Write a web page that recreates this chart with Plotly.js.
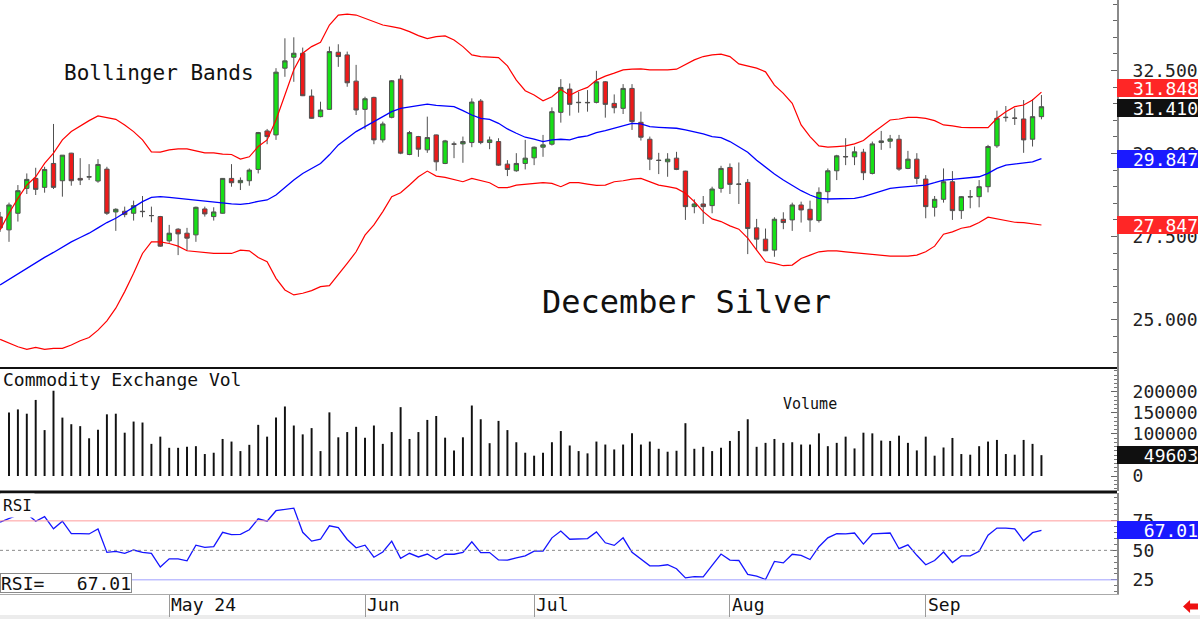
<!DOCTYPE html>
<html>
<head>
<meta charset="utf-8">
<script src="https://cdn.plot.ly/plotly-3.0.1.min.js"></script>
<style>
  html, body { margin: 0; padding: 0; background: #ffffff; }
  #chart { width: 1200px; height: 619px; }
</style>
</head>
<body>
<div id="chart"></div>
<script>
// December silver futures, daily sessions Apr 4 – Sep 20, 2024
const dates = [
  '2024-04-04','2024-04-05','2024-04-08','2024-04-09','2024-04-10','2024-04-11','2024-04-12','2024-04-15','2024-04-16','2024-04-17',
  '2024-04-18','2024-04-19','2024-04-22','2024-04-23','2024-04-24','2024-04-25','2024-04-26','2024-04-29','2024-04-30',
  '2024-05-01','2024-05-02','2024-05-03','2024-05-06','2024-05-07','2024-05-08','2024-05-09','2024-05-10','2024-05-13','2024-05-14',
  '2024-05-15','2024-05-16','2024-05-17','2024-05-20','2024-05-21','2024-05-22','2024-05-23','2024-05-24','2024-05-28','2024-05-29',
  '2024-05-30','2024-05-31',
  '2024-06-03','2024-06-04','2024-06-05','2024-06-06','2024-06-07','2024-06-10','2024-06-11','2024-06-12','2024-06-13','2024-06-14',
  '2024-06-17','2024-06-18','2024-06-20','2024-06-21','2024-06-24','2024-06-25','2024-06-26','2024-06-27','2024-06-28',
  '2024-07-01','2024-07-02','2024-07-03','2024-07-05','2024-07-08','2024-07-09','2024-07-10','2024-07-11','2024-07-12','2024-07-15',
  '2024-07-16','2024-07-17','2024-07-18','2024-07-19','2024-07-22','2024-07-23','2024-07-24','2024-07-25','2024-07-26','2024-07-29',
  '2024-07-30','2024-07-31',
  '2024-08-01','2024-08-02','2024-08-05','2024-08-06','2024-08-07','2024-08-08','2024-08-09','2024-08-12','2024-08-13','2024-08-14',
  '2024-08-15','2024-08-16','2024-08-19','2024-08-20','2024-08-21','2024-08-22','2024-08-23','2024-08-26','2024-08-27','2024-08-28',
  '2024-08-29','2024-08-30',
  '2024-09-03','2024-09-04','2024-09-05','2024-09-06','2024-09-09','2024-09-10','2024-09-11','2024-09-12','2024-09-13','2024-09-16',
  '2024-09-17','2024-09-18','2024-09-19','2024-09-20'
];

const openPx = [
  28.09,27.70,28.20,28.95,29.25,28.98,29.70,29.18,30.01,29.25,
  29.29,29.17,29.53,28.24,28.26,28.20,28.26,28.13,28.10,27.37,
  27.72,27.60,27.55,28.33,28.10,28.20,29.25,29.12,29.18,29.52,
  30.68,30.56,32.57,32.90,33.02,31.73,31.11,31.33,33.05,32.97,
  32.18,31.33,31.69,30.41,31.09,32.24,29.97,30.51,30.11,30.56,
  29.70,30.29,30.29,30.33,31.58,30.33,30.36,29.68,29.48,29.70,
  29.87,30.19,30.28,31.24,31.94,31.53,31.54,31.54,32.16,31.51,
  31.36,31.96,30.94,30.43,29.80,29.75,29.86,29.47,28.40,28.48,
  28.43,28.95,29.58,29.07,29.13,27.76,27.42,27.09,28.02,28.00,
  28.45,28.32,27.98,28.85,29.48,29.91,29.90,30.04,29.40,30.33,
  30.37,30.43,29.55,29.83,29.23,28.38,28.62,29.15,28.28,28.69,
  28.70,29.00,30.23,31.08,31.07,31.04,30.43,31.11
];
const highPx = [
  28.24,28.52,29.05,29.40,29.57,29.60,30.89,29.95,30.02,29.86,
  29.68,29.83,29.60,28.35,28.40,28.58,28.72,28.40,28.12,27.85,
  27.75,27.76,28.40,28.40,28.38,29.26,29.68,29.28,29.55,30.65,
  30.74,32.57,33.47,33.50,33.19,31.93,31.56,33.22,33.29,33.07,
  32.67,31.71,31.71,30.96,32.21,32.36,30.68,30.53,31.11,30.57,
  30.41,30.36,30.51,31.66,31.64,30.51,30.46,29.80,30.01,30.41,
  30.21,30.56,31.39,32.24,32.11,31.86,31.91,32.49,32.18,31.78,
  32.09,32.09,31.26,30.51,30.02,30.01,30.05,29.48,28.62,28.72,
  29.00,29.63,29.70,29.73,29.23,28.03,27.74,28.08,28.23,28.52,
  28.55,28.58,28.98,29.55,29.96,30.46,30.21,30.14,30.36,30.68,
  30.56,30.56,30.08,30.01,29.35,28.72,29.55,29.47,28.72,28.90,
  29.20,30.26,31.29,31.43,31.36,31.61,31.63,31.76
];
const lowPx = [
  27.64,27.34,27.95,28.78,28.75,28.82,28.93,28.70,29.03,29.05,
  29.20,29.12,28.15,27.67,28.08,27.98,28.08,27.93,27.19,27.31,
  26.94,27.07,27.34,28.10,27.98,28.19,29.00,28.90,29.03,29.40,
  30.28,30.41,32.31,32.16,31.73,31.05,31.09,31.32,32.61,32.01,
  31.16,30.73,30.28,30.33,31.06,29.98,29.95,29.90,30.02,29.48,
  29.68,29.86,29.72,30.19,30.28,30.13,29.63,29.32,29.45,29.52,
  29.65,29.90,30.24,30.93,31.14,31.23,31.26,31.51,31.08,31.21,
  31.19,30.71,30.39,29.50,29.38,29.30,29.50,28.00,28.20,27.88,
  28.20,28.82,28.78,28.48,26.97,27.09,27.06,26.89,27.72,27.67,
  27.92,27.64,27.92,28.50,29.20,29.65,29.65,29.20,29.37,30.11,
  30.16,29.48,29.53,29.08,28.05,28.10,28.52,28.00,28.03,28.35,
  28.38,28.83,30.17,30.96,30.86,30.02,30.21,31.03
];
const closePx = [
  27.76,28.45,28.88,29.22,28.92,29.52,28.98,29.95,29.18,29.20,
  29.30,29.67,28.20,28.32,28.16,28.43,28.25,28.13,27.21,27.60,
  27.58,27.45,28.38,28.18,28.24,29.25,29.12,29.19,29.50,30.63,
  30.51,32.45,32.79,33.02,31.74,31.06,31.31,33.07,32.92,32.13,
  31.31,31.65,30.41,30.89,32.19,30.01,30.63,30.13,30.48,29.75,
  30.38,30.28,30.36,31.55,30.33,30.41,29.65,29.52,29.70,29.86,
  30.19,30.26,31.26,31.99,31.48,31.54,31.53,32.16,31.48,31.38,
  31.96,30.96,30.49,29.83,29.79,29.83,29.52,28.40,28.48,28.40,
  28.93,29.55,29.07,29.08,27.74,27.42,27.07,28.02,27.92,28.45,
  28.30,28.00,28.83,29.48,29.93,29.90,30.05,29.42,30.29,30.38,
  30.44,29.53,29.83,29.25,28.40,28.62,29.15,28.28,28.70,28.70,
  29.00,30.21,31.06,31.09,31.06,30.41,31.11,31.410
];

// Bollinger bands (20-day, 2 sd)
const upperBand = [
  27.70,28.20,28.65,29.05,29.30,29.70,30.01,30.41,30.66,30.83,
  30.99,31.13,31.09,31.03,30.86,30.66,30.41,30.05,30.04,30.11,
  30.14,30.14,30.08,30.02,30.02,29.98,29.97,29.83,29.90,30.21,
  30.41,31.01,31.76,32.52,33.02,33.22,33.35,33.87,34.17,34.20,
  34.17,34.07,33.97,33.87,33.82,33.77,33.67,33.55,33.46,33.52,
  33.54,33.42,33.22,32.97,32.92,32.90,32.89,32.64,32.21,31.89,
  31.76,31.59,31.71,31.93,31.75,31.89,31.99,32.21,32.33,32.42,
  32.52,32.54,32.55,32.52,32.51,32.52,32.54,32.67,32.82,32.92,
  32.97,32.99,32.92,32.70,32.64,32.57,32.46,32.06,31.81,31.51,
  30.86,30.51,30.23,30.19,30.21,30.23,30.29,30.39,30.61,30.81,
  31.01,31.04,31.09,31.09,31.06,30.99,30.86,30.83,30.79,30.78,
  30.78,30.78,31.06,31.26,31.41,31.46,31.61,31.848
];
const midBand = [
  26.04,26.21,26.37,26.53,26.71,26.87,27.02,27.19,27.34,27.47,
  27.60,27.76,27.92,28.05,28.22,28.38,28.55,28.68,28.70,28.68,
  28.65,28.62,28.58,28.55,28.52,28.50,28.48,28.47,28.50,28.56,
  28.60,28.75,28.98,29.20,29.40,29.55,29.70,29.96,30.26,30.46,
  30.66,30.81,30.96,31.11,31.26,31.36,31.41,31.46,31.49,31.45,
  31.43,31.41,31.29,31.16,31.06,31.03,30.91,30.74,30.61,30.49,
  30.43,30.36,30.41,30.43,30.41,30.49,30.53,30.63,30.69,30.76,
  30.84,30.91,30.89,30.81,30.79,30.78,30.76,30.71,30.66,30.59,
  30.51,30.48,30.36,30.21,30.04,29.80,29.58,29.38,29.20,29.04,
  28.88,28.75,28.65,28.63,28.63,28.63,28.65,28.70,28.78,28.88,
  28.95,28.98,29.00,29.02,29.05,29.12,29.20,29.22,29.25,29.28,
  29.30,29.40,29.55,29.65,29.68,29.70,29.75,29.847
];
const lowerBand = [
  24.40,24.28,24.18,24.10,24.16,24.10,24.13,24.13,24.23,24.36,
  24.46,24.68,24.96,25.34,25.84,26.39,26.99,27.34,27.34,27.29,
  27.21,27.07,27.04,27.02,26.99,26.99,26.99,27.09,27.07,26.87,
  26.74,26.24,25.89,25.74,25.79,25.87,25.99,26.02,26.34,26.69,
  27.04,27.54,27.85,28.25,28.70,28.82,29.05,29.30,29.47,29.32,
  29.28,29.22,29.15,29.25,29.18,29.12,28.97,28.97,29.05,29.08,
  29.10,29.12,29.10,29.00,29.12,29.12,29.08,29.04,29.05,29.15,
  29.18,29.23,29.25,29.15,29.05,29.00,28.95,28.80,28.55,28.25,
  28.03,27.95,27.82,27.72,27.45,27.09,26.74,26.69,26.62,26.64,
  26.84,26.94,27.04,27.07,27.07,27.04,27.01,26.99,26.97,26.94,
  26.91,26.91,26.91,26.94,27.04,27.21,27.57,27.64,27.75,27.80,
  27.92,28.08,28.03,27.98,27.93,27.92,27.88,27.847
];

// Commodity Exchange volume (first session has no bar on screen)
const volume = [
  null,151000,158500,148300,181100,109300,203000,139000,123300,118700,
  89800,110100,146800,148300,103100,129600,127300,76500,93700,67100,
  67100,69500,71000,52300,55400,88200,82000,59300,74200,121800,
  93700,139000,165500,120200,99100,114000,59300,151500,92100,104600,
  117100,91300,120200,76500,104600,163900,88200,104600,133500,142900,
  91300,60900,92100,167800,135100,78100,131200,109300,80400,55400,
  48400,55400,80400,107000,72600,59300,53900,82000,74900,63200,
  74900,101500,74900,82000,64800,57800,60100,125700,64800,69500,
  59300,67100,83500,107000,135100,69500,78900,88200,78900,80400,
  74900,74900,101500,71000,78900,93700,65600,103100,101500,84300,
  83500,96000,78900,60900,93700,48400,67900,90600,52300,50700,
  71000,82000,85900,52300,50700,85900,76500,49603
];

// 14-day RSI
const rsi = [
  73.9,76.9,80.0,81.1,74.7,78.6,68.3,74.7,64.2,64.2,
  63.9,68.1,48.3,49.2,47.5,50.3,48.3,47.5,35.8,42.8,
  42.8,41.1,54.4,52.5,53.1,65.3,63.3,63.6,67.5,76.7,
  74.7,83.6,85.0,85.8,65.3,57.8,59.4,70.8,69.2,59.2,
  52.2,54.4,44.2,48.6,57.8,43.3,47.5,44.4,46.9,42.5,
  46.7,46.7,48.3,57.2,48.1,48.1,41.9,41.7,43.6,45.3,
  49.4,49.4,60.6,66.4,59.4,59.7,60.0,65.6,56.4,54.2,
  60.6,48.3,42.5,36.9,36.9,37.8,34.4,26.7,27.8,27.5,
  37.2,46.9,41.7,41.4,29.7,28.1,25.3,40.6,39.4,46.7,
  45.8,42.2,53.1,60.6,64.2,63.9,64.7,55.3,63.9,64.2,
  64.7,51.4,54.7,45.8,37.8,41.4,48.6,39.7,45.3,45.3,
  49.2,62.8,68.9,68.9,68.3,58.1,65.0,67.01
];

const monthLabels = ['May 24', 'Jun', 'Jul', 'Aug', 'Sep'];
const priceTicks = [25, 27.5, 30, 32.5];
const volumeTicks = [0, 100000, 150000, 200000];
const rsiTicks = [25, 50, 75];

// ---- drawing ----
const MONO = '"DejaVu Sans Mono", "Liberation Mono", monospace';
const n = dates.length;
const idx = dates.map((d, i) => i);

// first session of each month after the opening month
const monthStarts = [];
for (let i = 1; i < n; i++) {
  if (dates[i].slice(5, 7) !== dates[i - 1].slice(5, 7)) monthStarts.push(i);
}

const last = n - 1;
const GREEN = '#16e016', RED = '#ee1a1a', BLUE = '#1414ff';

const traces = [
  { type: 'scatter', mode: 'lines', x: idx, y: upperBand, xaxis: 'x', yaxis: 'y',
    line: { color: '#ff0000', width: 1.2 }, hoverinfo: 'skip' },
  { type: 'scatter', mode: 'lines', x: idx, y: lowerBand, xaxis: 'x', yaxis: 'y',
    line: { color: '#ff0000', width: 1.2 }, hoverinfo: 'skip' },
  { type: 'scatter', mode: 'lines', x: idx, y: midBand, xaxis: 'x', yaxis: 'y',
    line: { color: '#0000ff', width: 1.3 }, hoverinfo: 'skip' },
  { type: 'candlestick', x: idx, open: openPx, high: highPx, low: lowPx, close: closePx,
    xaxis: 'x', yaxis: 'y', whiskerwidth: 0,
    increasing: { line: { color: '#505050', width: 1 }, fillcolor: GREEN },
    decreasing: { line: { color: '#505050', width: 1 }, fillcolor: RED },
    hoverinfo: 'skip' },
  { type: 'bar', x: idx, y: volume, xaxis: 'x', yaxis: 'y2', width: 0.22,
    marker: { color: '#111111', line: { width: 0 } }, hoverinfo: 'skip' },
  { type: 'scatter', mode: 'lines', x: idx, y: rsi, xaxis: 'x', yaxis: 'y3',
    line: { color: BLUE, width: 1.3 }, hoverinfo: 'skip' }
];

const tickFont = { family: MONO, size: 18, color: '#222' };
const rightAxis = {
  side: 'right', anchor: 'x', showgrid: false, zeroline: false,
  showline: true, linecolor: '#8a8a8a', linewidth: 2,
  ticks: 'inside', ticklen: 6, tickcolor: '#666', tickwidth: 1,
  tickfont: tickFont, ticklabelstandoff: 10, fixedrange: true
};

function valueBox(text, y, yref, bg, yshift) {
  return {
    xref: 'paper', x: 1, xanchor: 'left', yref: yref, y: y, yanchor: 'middle',
    text: text, showarrow: false, align: 'right',
    width: 81, height: 18, bgcolor: bg, borderpad: 0, borderwidth: 0,
    yshift: yshift || 0,
    font: { family: MONO, size: 18, color: '#ffffff' }
  };
}

const annotations = [
  { xref: 'paper', yref: 'paper', x: 0.0555, y: 0.877, xanchor: 'left', yanchor: 'middle',
    text: 'Bollinger Bands', showarrow: false, font: { family: MONO, size: 21, color: '#111' } },
  { xref: 'paper', yref: 'paper', x: 0.4835, y: 0.4916, xanchor: 'left', yanchor: 'middle',
    text: 'December Silver', showarrow: false, font: { family: MONO, size: 32, color: '#111' } },
  { xref: 'paper', yref: 'paper', x: 0.001, y: 0.3603, xanchor: 'left', yanchor: 'middle',
    text: 'Commodity Exchange Vol', showarrow: false, font: { family: MONO, size: 18, color: '#111' } },
  { xref: 'paper', yref: 'paper', x: 0.699, y: 0.3199, xanchor: 'left', yanchor: 'middle',
    text: 'Volume', showarrow: false, font: { family: MONO, size: 15, color: '#111' } },
  { xref: 'paper', yref: 'paper', x: 0.0, y: 0.149, xanchor: 'left', yanchor: 'middle',
    text: 'RSI', showarrow: false, bgcolor: '#ffffff', borderpad: 2,
    font: { family: MONO, size: 16, color: '#111' } },
  { xref: 'paper', yref: 'paper', x: 0.0, y: 0.0185, xanchor: 'left', yanchor: 'middle',
    text: 'RSI=   ' + rsi[last].toFixed(2), showarrow: false, align: 'left',
    width: 130, height: 18, bgcolor: '#ffffff', bordercolor: '#8a8a8a', borderwidth: 1, borderpad: 0,
    font: { family: MONO, size: 18, color: '#111' } }
];

monthStarts.forEach((mi, k) => {
  annotations.push({
    xref: 'x', x: mi, xanchor: 'left', yref: 'paper', y: -0.0185, yanchor: 'middle',
    text: monthLabels[k], showarrow: false, font: { family: MONO, size: 18, color: '#111' }
  });
});

annotations.push(valueBox(upperBand[last].toFixed(3), upperBand[last], 'y', '#ff2626', 4));
annotations.push(valueBox(closePx[last].toFixed(3), closePx[last], 'y', '#101010', -1));
annotations.push(valueBox(midBand[last].toFixed(3), midBand[last], 'y', '#1a1aff', 0));
annotations.push(valueBox(lowerBand[last].toFixed(3), lowerBand[last], 'y', '#ff2626', 0));
annotations.push(valueBox(String(volume[last]), volume[last], 'y2', '#101010', 0));
annotations.push(valueBox(rsi[last].toFixed(2), rsi[last], 'y3', '#1a1aff', 0));

const shapes = [
  // panel separators
  { type: 'line', xref: 'paper', yref: 'paper', x0: 0, x1: 1, y0: 0.3805, y1: 0.3805,
    line: { color: '#111', width: 2 } },
  { type: 'line', xref: 'paper', yref: 'paper', x0: 0, x1: 1, y0: 0.1717, y1: 0.1717,
    line: { color: '#111', width: 3 } },
  // RSI guide levels
  { type: 'line', xref: 'paper', yref: 'y3', x0: 0, x1: 1, y0: 75, y1: 75,
    line: { color: '#ff9c9c', width: 1 } },
  { type: 'line', xref: 'paper', yref: 'y3', x0: 0, x1: 1, y0: 50, y1: 50,
    line: { color: '#8c8c8c', width: 1, dash: 'dot' } },
  { type: 'line', xref: 'paper', yref: 'y3', x0: 0, x1: 1, y0: 25, y1: 25,
    line: { color: '#a0a0ff', width: 1 } },
  // footer strip
  { type: 'rect', xref: 'paper', yref: 'paper', x0: 0, x1: 1.075, y0: -0.0354, y1: -0.05,
    fillcolor: '#ececec', line: { width: 0 }, layer: 'below' },
  // scroll arrow
  { type: 'path', xref: 'paper', yref: 'paper',
    path: 'M 1.0591 -0.0210 L 1.0654 -0.0101 L 1.0654 -0.0160 L 1.0725 -0.0160 L 1.0725 -0.0261 L 1.0654 -0.0261 L 1.0654 -0.0320 Z',
    fillcolor: '#ee1111', line: { width: 0 } }
];

const layout = {
  width: 1200, height: 619,
  margin: { l: 0, r: 83, t: 0, b: 25, pad: 0 },
  paper_bgcolor: '#ffffff', plot_bgcolor: '#ffffff',
  showlegend: false,
  font: { family: MONO, size: 18, color: '#222' },
  xaxis: {
    range: [-0.0112, 125.49], anchor: 'y3', showgrid: false, zeroline: false,
    rangeslider: { visible: false }, fixedrange: true,
    tickmode: 'array', tickvals: monthStarts, showticklabels: false,
    ticks: 'outside', ticklen: 22, tickcolor: '#9a9a9a', tickwidth: 1,
    showline: true, linecolor: '#aaaaaa', linewidth: 1
  },
  yaxis: Object.assign({}, rightAxis, {
    domain: [0.3805, 1], range: [23.54, 34.6235],
    tickmode: 'array', tickvals: priceTicks, tickformat: '.3f',
    minor: { tick0: 25, dtick: 0.5, ticks: 'inside', ticklen: 4, tickcolor: '#666' }
  }),
  yaxis2: Object.assign({}, rightAxis, {
    domain: [0.1734, 0.3805], range: [-35700, 257150],
    tickmode: 'array', tickvals: volumeTicks, tickformat: 'd',
    minor: { tick0: 0, dtick: 10000, ticks: 'inside', ticklen: 3, tickcolor: '#777' }
  }),
  yaxis3: Object.assign({}, rightAxis, {
    domain: [0, 0.170], range: [13, 98.6],
    tickmode: 'array', tickvals: rsiTicks, tickformat: 'd',
    minor: { tick0: 0, dtick: 5, ticks: 'inside', ticklen: 3, tickcolor: '#777' }
  }),
  annotations: annotations,
  shapes: shapes
};

Plotly.newPlot('chart', traces, layout, { staticPlot: true, displayModeBar: false });
</script>
</body>
</html>
